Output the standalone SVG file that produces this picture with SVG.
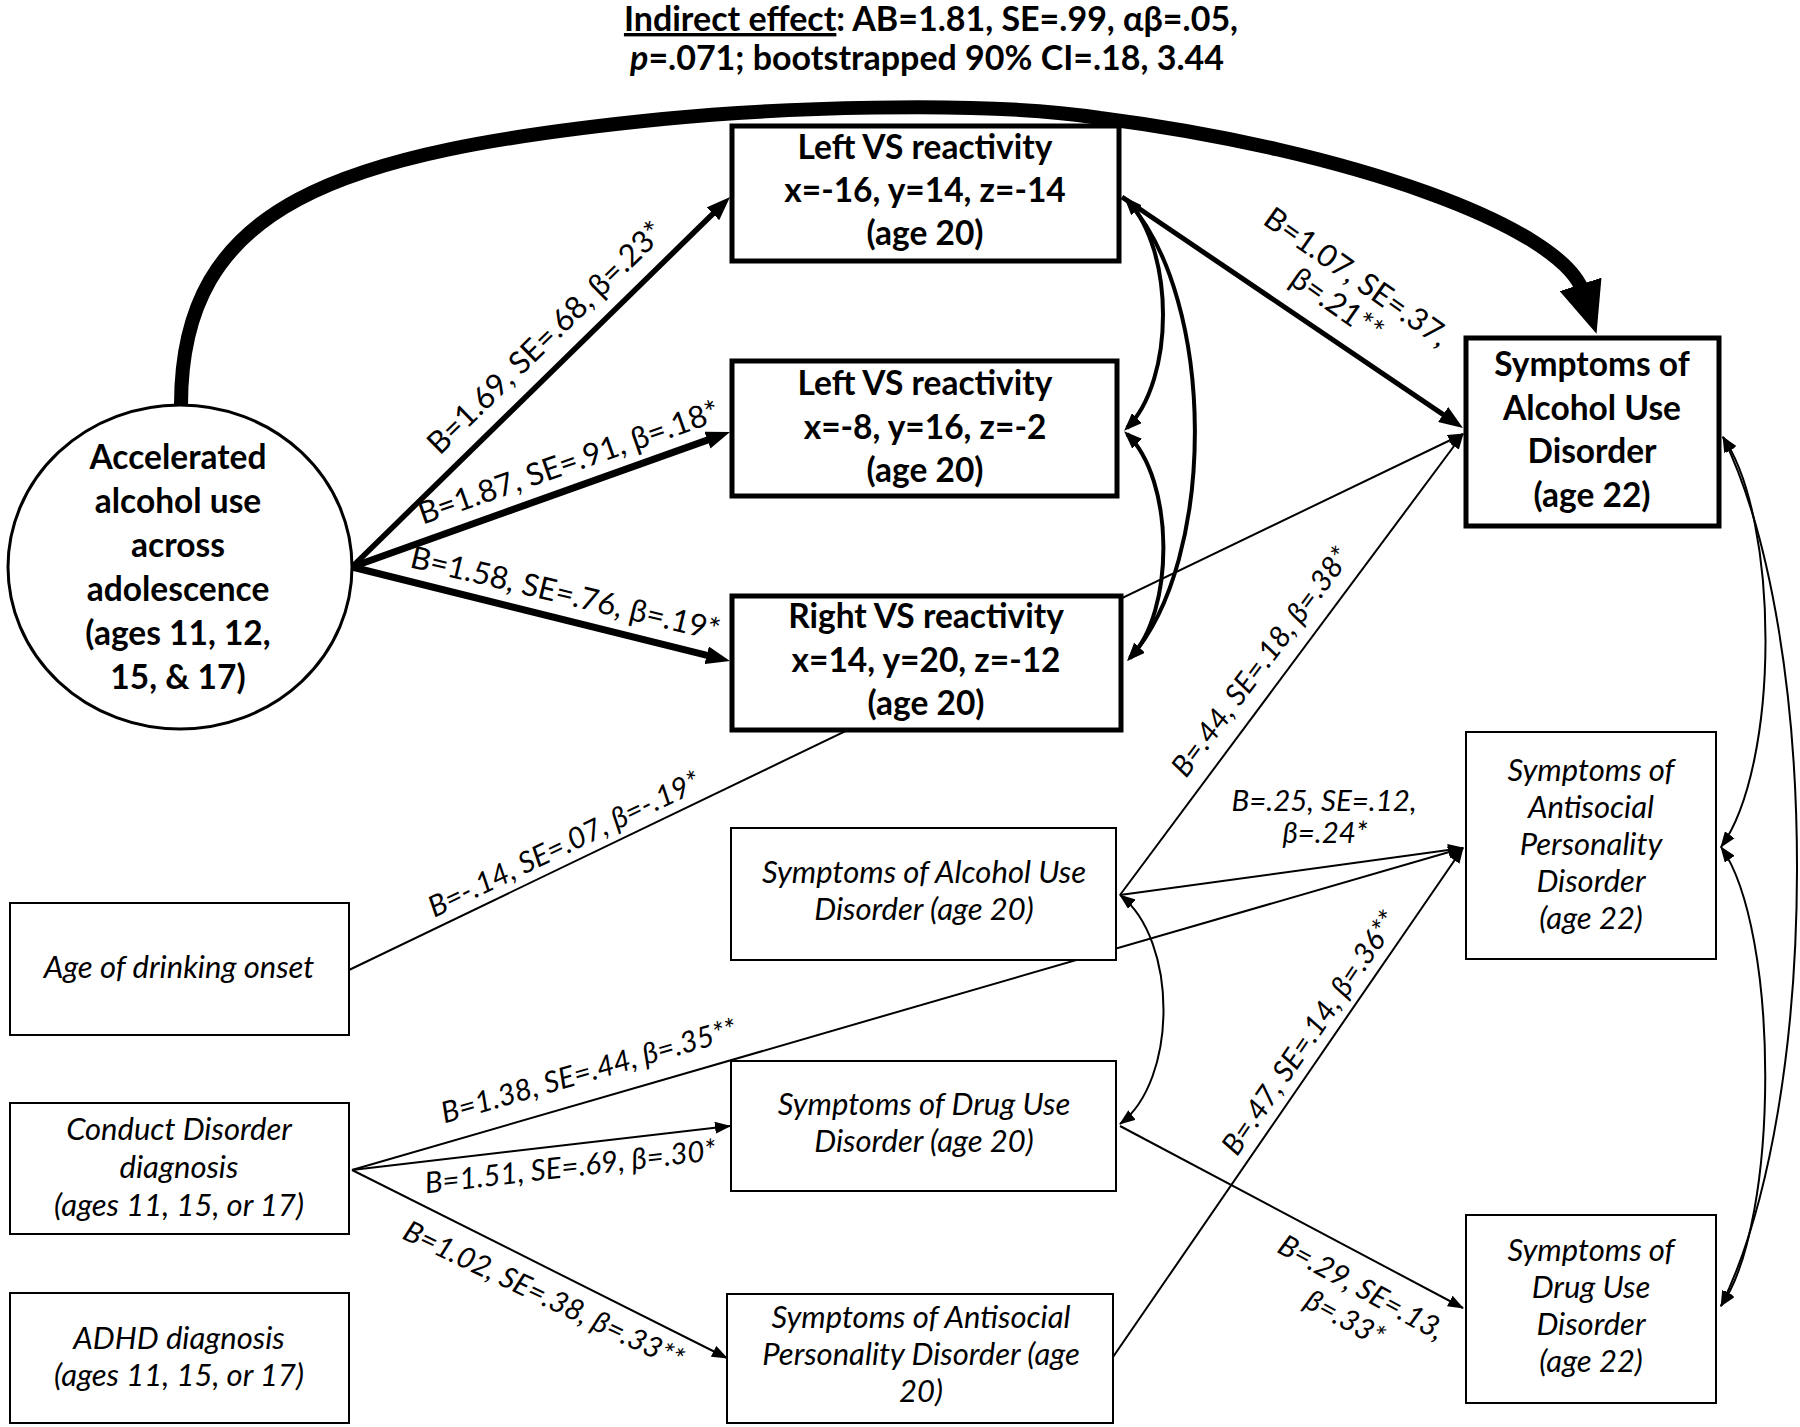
<svg xmlns="http://www.w3.org/2000/svg" width="1800" height="1427" viewBox="0 0 1800 1427">
<style>
text{font-family:Lato,"Liberation Sans",sans-serif;fill:#000}
.nb{font-weight:bold;font-size:33.5px;text-anchor:middle}
.ni{font-style:italic;font-size:31px;text-anchor:middle}
.lr{font-size:31px;text-anchor:middle}
.li{font-style:italic;font-size:29.5px;text-anchor:middle}
.tt{font-weight:bold;font-size:34px;text-anchor:middle}
.bx{fill:#fff;stroke:#000;stroke-width:2}
.bxb{fill:#fff;stroke:#000;stroke-width:5}
.cov{fill:none;stroke:#000;stroke-width:4;marker-start:url(#hCov);marker-end:url(#hCov)}
.covt{fill:none;stroke:#000;stroke-width:2;marker-start:url(#hThin);marker-end:url(#hThin)}
.arr{fill:none;stroke:#000;stroke-width:2;marker-end:url(#hThin)}
.thick{fill:none;stroke:#000;marker-end:url(#hThick)}
</style>
<defs>
<marker id="hBig" viewBox="0 0 52 44" markerUnits="userSpaceOnUse" markerWidth="52" markerHeight="44" refX="8" refY="22" orient="auto"><path d="M0,0L52,22L0,44z"/></marker>
<marker id="hThick" viewBox="0 0 24 18" markerUnits="userSpaceOnUse" markerWidth="24" markerHeight="18" refX="14" refY="9" orient="auto"><path d="M0,0L24,9L0,18z"/></marker>
<marker id="hCov" viewBox="0 0 18 14" markerUnits="userSpaceOnUse" markerWidth="18" markerHeight="14" refX="14" refY="7" orient="auto-start-reverse"><path d="M0,0L18,7L0,14z"/></marker>
<marker id="hThin" viewBox="0 0 16 12" markerUnits="userSpaceOnUse" markerWidth="16" markerHeight="12" refX="15" refY="6" orient="auto-start-reverse"><path d="M0,0L16,6L0,12z"/></marker>
</defs>
<rect width="1800" height="1427" fill="#fff"/>

<g id="title">
<text class="tt" x="931" y="31"><tspan text-decoration="underline">Indirect effect</tspan>: AB=1.81, SE=.99, αβ=.05,</text>
<text class="tt" x="927" y="70"><tspan font-style="italic">p</tspan>=.071; bootstrapped 90% CI=.18, 3.44</text>
</g>

<g id="connectors">
<path d="M181,405 C181,205 333,152 663,119 C763,109 980,99 1100,118 C1350,150 1562,227 1583,292" fill="none" stroke="#000" stroke-width="14" marker-end="url(#hBig)"/>
<path class="thick" stroke-width="5.5" d="M352,567 L722.9,204"/>
<path class="thick" stroke-width="7" d="M352,567 L720.6,435.4"/>
<path class="thick" stroke-width="7" d="M352,567 L720.3,658.6"/>
<path class="thick" stroke-width="5" d="M1122,197 L1454.7,422.4"/>
<path class="cov" d="M1127,200 C1175,250 1175,380 1127,428"/>
<path class="cov" d="M1127,200 C1217,300 1217,560 1130,658"/>
<path class="cov" d="M1127,434 C1175,480 1175,612 1130,658"/>
<path class="arr" d="M349,970 L1463,434"/>
<path class="arr" d="M1120,895 L1463,434"/>
<path class="arr" d="M1120,895 L1463,848"/>
<path class="arr" d="M352,1170 L1463,848"/>
<path class="arr" d="M1113,1357 L1463,848"/>
<path class="arr" d="M1120,1126 L1463,1308"/>
<path class="arr" d="M352,1170 L730,1126"/>
<path class="arr" d="M352,1170 L727,1358"/>
<path class="covt" d="M1120,895 C1178,940 1178,1080 1120,1124"/>
<path class="covt" d="M1723,437 C1780,520 1780,765 1721,847"/>
<path class="covt" d="M1723,437 C1822,640 1822,1100 1721,1306"/>
<path class="covt" d="M1721,847 C1780,930 1780,1222 1721,1306"/>
</g>

<g id="labels">
<text class="lr" transform="translate(565.5,358) rotate(-44.4)" y="-18">B=1.69, SE=.68, β=.23*</text>
<text class="lr" transform="translate(577.2,486.6) rotate(-19.3)" y="-15">B=1.87, SE=.91, β=.18*</text>
<text class="lr" transform="translate(559.4,618.6) rotate(13.5)" y="-15">B=1.58, SE=.76, β=.19*</text>
<g transform="translate(1319,330.5) rotate(35)"><text class="lr" y="-55">B=1.07, SE=.37,</text><text class="lr" y="-21">β=.21**</text></g>
<text class="li" transform="translate(572.8,862.3) rotate(-25.7)" y="-10">B=-.14, SE=.07, β=-.19*</text>
<text class="li" transform="translate(1281,677) rotate(-53.2)" y="-15">B=.44, SE=.18, β=.38*</text>
<text class="li" x="1324" y="811">B=.25, SE=.12,</text>
<text class="li" x="1325" y="843">β=.24*</text>
<text class="li" transform="translate(596.9,1099) rotate(-16.2)" y="-19">B=1.38, SE=.44, β=.35**</text>
<text class="li" transform="translate(567.8,1144.9) rotate(-6.6)" y="32">B=1.51, SE=.69, β=.30*</text>
<text class="li" transform="translate(554.6,1271.6) rotate(25.5)" y="36">B=1.02, SE=.38, β=.33**</text>
<text class="li" transform="translate(1327.5,1045) rotate(-55.5)" y="-11">B=.47, SE=.14, β=.36**</text>
<g transform="translate(1375.7,1262.2) rotate(29)"><text class="li" y="39">B=.29, SE=.13,</text><text class="li" y="74">β=.33*</text></g>
</g>

<g id="accelerated">
<ellipse cx="180" cy="567" rx="172" ry="162" fill="#fff" stroke="#000" stroke-width="3"/>
<text class="nb" x="178" y="469">Accelerated</text>
<text class="nb" x="178" y="513">alcohol use</text>
<text class="nb" x="178" y="557">across</text>
<text class="nb" x="178" y="601">adolescence</text>
<text class="nb" x="178" y="645">(ages 11, 12,</text>
<text class="nb" x="178" y="689">15, &amp; 17)</text>
</g>

<g id="leftvs1">
<rect class="bxb" x="732" y="126" width="387" height="135"/>
<text class="nb" x="925" y="159">Left VS reactivity</text>
<text class="nb" x="925" y="202">x=-16, y=14, z=-14</text>
<text class="nb" x="925" y="245">(age 20)</text>
</g>

<g id="leftvs2">
<rect class="bxb" x="732" y="361" width="385" height="135"/>
<text class="nb" x="925" y="395">Left VS reactivity</text>
<text class="nb" x="925" y="439">x=-8, y=16, z=-2</text>
<text class="nb" x="925" y="482">(age 20)</text>
</g>

<g id="rightvs">
<rect class="bxb" x="732" y="596" width="389" height="134"/>
<text class="nb" x="926" y="628">Right VS reactivity</text>
<text class="nb" x="926" y="672">x=14, y=20, z=-12</text>
<text class="nb" x="926" y="715">(age 20)</text>
</g>

<g id="aud22">
<rect class="bxb" x="1466" y="338" width="253" height="188"/>
<text class="nb" x="1592" y="376">Symptoms of</text>
<text class="nb" x="1592" y="420">Alcohol Use</text>
<text class="nb" x="1592" y="463">Disorder</text>
<text class="nb" x="1592" y="507">(age 22)</text>
</g>

<g id="aspd22">
<rect class="bx" x="1466" y="732" width="250" height="227"/>
<text class="ni" x="1591" y="781">Symptoms of</text>
<text class="ni" x="1591" y="818">Antisocial</text>
<text class="ni" x="1591" y="855">Personality</text>
<text class="ni" x="1591" y="892">Disorder</text>
<text class="ni" x="1591" y="929">(age 22)</text>
</g>

<g id="dud22">
<rect class="bx" x="1466" y="1215" width="250" height="188"/>
<text class="ni" x="1591" y="1261">Symptoms of</text>
<text class="ni" x="1591" y="1298">Drug Use</text>
<text class="ni" x="1591" y="1335">Disorder</text>
<text class="ni" x="1591" y="1372">(age 22)</text>
</g>

<g id="aud20">
<rect class="bx" x="731" y="828" width="385" height="132"/>
<text class="ni" x="924" y="883">Symptoms of Alcohol Use</text>
<text class="ni" x="924" y="920">Disorder (age 20)</text>
</g>

<g id="dud20">
<rect class="bx" x="731" y="1061" width="385" height="130"/>
<text class="ni" x="924" y="1115">Symptoms of Drug Use</text>
<text class="ni" x="924" y="1152">Disorder (age 20)</text>
</g>

<g id="aspd20">
<rect class="bx" x="727" y="1294" width="386" height="129"/>
<text class="ni" x="921" y="1328">Symptoms of Antisocial</text>
<text class="ni" x="921" y="1365">Personality Disorder (age</text>
<text class="ni" x="921" y="1402">20)</text>
</g>

<g id="onset">
<rect class="bx" x="10" y="903" width="339" height="132"/>
<text class="ni" x="179" y="978">Age of drinking onset</text>
</g>

<g id="conduct">
<rect class="bx" x="10" y="1103" width="339" height="131"/>
<text class="ni" x="179" y="1140">Conduct Disorder</text>
<text class="ni" x="179" y="1178">diagnosis</text>
<text class="ni" x="179" y="1216">(ages 11, 15, or 17)</text>
</g>

<g id="adhd">
<rect class="bx" x="10" y="1293" width="339" height="130"/>
<text class="ni" x="179" y="1349">ADHD diagnosis</text>
<text class="ni" x="179" y="1386">(ages 11, 15, or 17)</text>
</g>
</svg>
